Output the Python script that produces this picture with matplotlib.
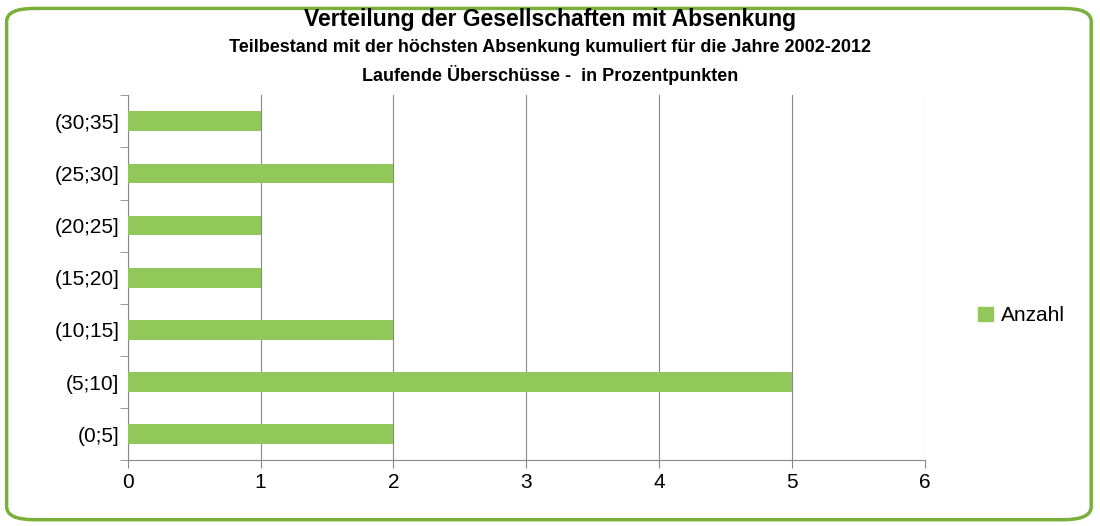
import matplotlib
matplotlib.use("Agg")
import matplotlib.pyplot as plt
from matplotlib.patches import FancyBboxPatch, Patch

categories = ["(0;5]", "(5;10]", "(10;15]", "(15;20]", "(20;25]", "(25;30]", "(30;35]"]
values = [2, 5, 2, 1, 1, 2, 1]
xticks = [0, 1, 2, 3, 4, 5, 6]
green = "#92C85A"

fig = plt.figure(figsize=(11, 5.26), dpi=100)
border = FancyBboxPatch((0.006, 0.012), 0.986, 0.972, boxstyle="round,pad=0,rounding_size=0.025",
                        transform=fig.transFigure, fc="white", ec="#7AAF3C", lw=2.5, zorder=-5)
fig.patches.append(border)
ax = fig.add_axes([0.116, 0.125, 0.725, 0.694])
ax.set_facecolor("none")
y = range(len(categories))
ax.barh(y, values, height=0.38, color=green, zorder=3)
ax.set_xlim(0, 6)
ax.set_ylim(-0.5, len(categories) - 0.5)
ax.set_xticks(xticks)
ax.set_xticklabels([str(t) for t in xticks], fontsize=15, family="Liberation Sans")
ax.set_yticks(list(y))
ax.set_yticklabels(categories, fontsize=15, family="Liberation Sans")
ax.tick_params(axis="y", length=0, pad=6)
ax.set_yticks([i - 0.5 for i in range(len(categories) + 1)], minor=True)
ax.tick_params(axis="y", which="minor", length=6, color="#888888")
ax.tick_params(axis="x", length=6, color="#888888", direction="out")
ax.grid(axis="x", color="#888888", lw=0.8, zorder=0)
for s in ["top", "right"]:
    ax.spines[s].set_visible(False)
for s in ["left", "bottom"]:
    ax.spines[s].set_color("#888888")

fig.text(0.5, 0.962, "Verteilung der Gesellschaften mit Absenkung", ha="center", va="center",
         fontsize=16.5, fontweight="bold", family="Liberation Sans")
fig.text(0.5, 0.909, "Teilbestand mit der höchsten Absenkung kumuliert für die Jahre 2002-2012",
         ha="center", va="center", fontsize=13, fontweight="bold", family="Liberation Sans")
fig.text(0.5, 0.857, "Laufende Überschüsse -  in Prozentpunkten", ha="center", va="center",
         fontsize=13, fontweight="bold", family="Liberation Sans")
fig.legend(handles=[Patch(color=green, label="Anzahl")], loc="center left",
           bbox_to_anchor=(0.872, 0.40), frameon=False, handlelength=0.7, handleheight=0.7,
           handletextpad=0.4, prop={"family": "Liberation Sans", "size": 15})
fig.savefig("out.png", dpi=100)
